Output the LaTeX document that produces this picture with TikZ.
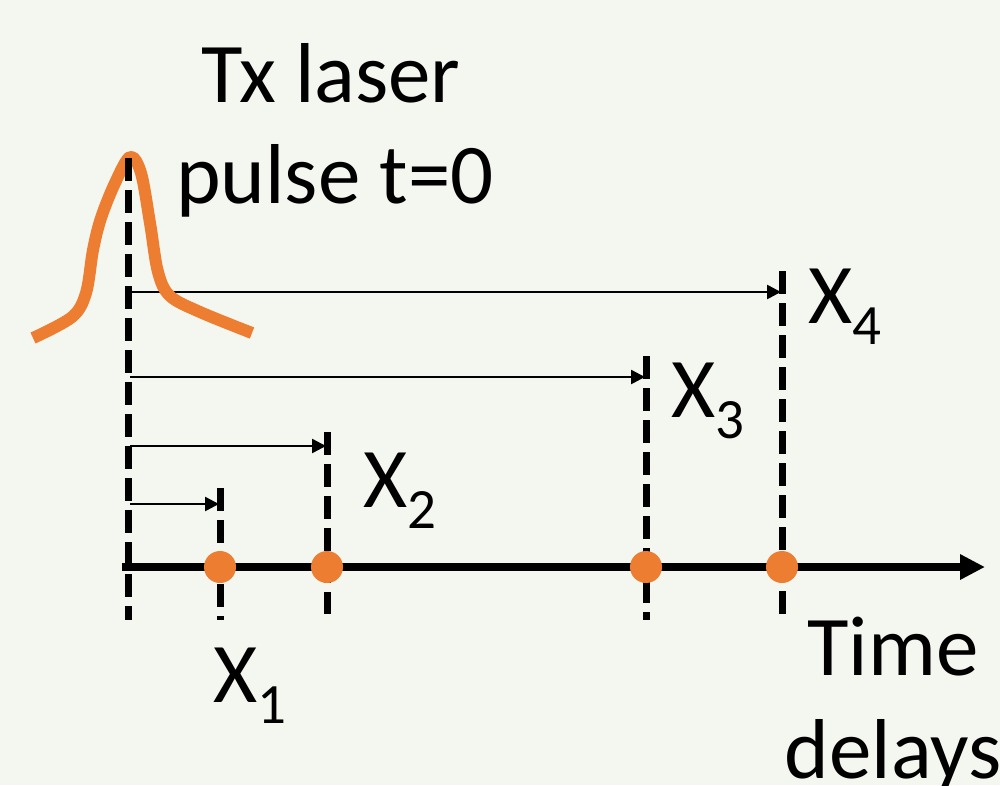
\documentclass[tikz,border=0pt]{standalone}
\usepackage{fontspec}
\setmainfont{Carlito}
\usetikzlibrary{arrows.meta}
\definecolor{bg}{HTML}{F4F7EF}
\definecolor{pulsecol}{HTML}{ED7D31}
\newcommand{\sub}[1]{\raisebox{-21pt}{\fontsize{57}{60}\selectfont #1}}
\begin{document}
\begin{tikzpicture}[x=1pt,y=-1pt,
  lbl/.style={inner sep=0pt, font=\fontsize{85}{104}\selectfont},
  vdash/.style={line width=7pt, dash pattern=on 23pt off 9pt},
  delay/.style={line width=2.5pt, -{Triangle[length=14pt,width=14pt]}},
  timeaxis/.style={line width=8pt, -{Triangle[length=25pt,width=24pt]}},
  dot/.style={circle, fill=pulsecol, minimum size=32pt, inner sep=0pt},
  pulseline/.style={pulsecol, line width=12pt, line join=round}]
\fill[bg] (0,0) rectangle (1000,785);
\useasboundingbox (0,0) rectangle (1000,785);

% coordinates
\coordinate (t0top) at (128,158);
\coordinate (t0bot) at (128,620);
\coordinate (x1top) at (220,488);
\coordinate (x1bot) at (220,620);
\coordinate (x2top) at (327,432);
\coordinate (x2bot) at (327,614);
\coordinate (x3top) at (646,356);
\coordinate (x3bot) at (646,620);
\coordinate (x4top) at (782,271);
\coordinate (x4bot) at (782,615);
\coordinate (axs) at (122,567);
\coordinate (axe) at (985,567);

% delay arrows
\coordinate (a1s) at (130,504); \coordinate (a1e) at (219,504);
\coordinate (a2s) at (130,446); \coordinate (a2e) at (326,446);
\coordinate (a3s) at (130,377); \coordinate (a3e) at (645,377);
\coordinate (a4s) at (130,292); \coordinate (a4e) at (781,292);
\draw[delay] (a1s) -- (a1e);
\draw[delay] (a2s) -- (a2e);
\draw[delay] (a3s) -- (a3e);
\draw[delay] (a4s) -- (a4e);

% pulse
\draw[pulseline] plot[smooth, tension=0.55] coordinates {(33,338) (72,317) (86,293) (93,250) (101,218) (115,183) (130,157) (141,173) (150,223) (158,272) (170,296) (200,312) (252,333)};

% dashed time markers
\draw[vdash] (t0top) -- (t0bot);
\draw[vdash] (x1top) -- (x1bot);
\draw[vdash] (x2top) -- (x2bot);
\draw[vdash] (x3top) -- (x3bot);
\draw[vdash] (x4top) -- (x4bot);

% time axis
\draw[timeaxis] (axs) -- (axe);

% dots
\node[dot] (d1) at (220,567) {};
\node[dot] (d2) at (327,567) {};
\node[dot] (d3) at (646,567) {};
\node[dot] (d4) at (782,567) {};

% labels
\node[lbl, anchor=base] (tx1) at (331,102) {Tx laser};
\node[lbl, anchor=base] (tx2) at (335,203) {pulse t=0};
\node[lbl, anchor=base west] (lx1) at (213,702) {X\sub{1}};
\node[lbl, anchor=base west] (lx2) at (363,507) {X\sub{2}};
\node[lbl, anchor=base west] (lx3) at (671,417) {X\sub{3}};
\node[lbl, anchor=base west] (lx4) at (808,323) {X\sub{4}};
\node[lbl, anchor=base] (tm1) at (893,675) {Time};
\node[lbl, anchor=base] (tm2) at (893,778) {delays};
\end{tikzpicture}
\end{document}
